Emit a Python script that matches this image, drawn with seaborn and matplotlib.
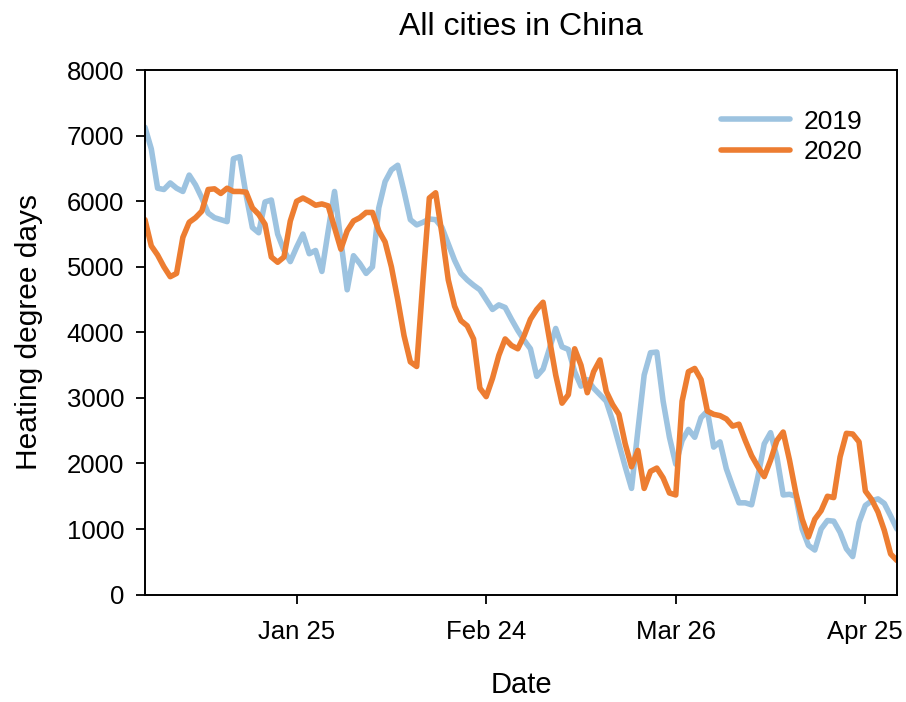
import numpy as np
import pandas as pd
import matplotlib
matplotlib.use("Agg")
import matplotlib.pyplot as plt
import seaborn as sns

# daily heating degree days, Jan 1 .. Apr 30
hdd_2019 = [
    7130, 6800, 6200, 6180, 6280, 6200, 6150, 6400, 6250, 6050,
    5820, 5750, 5720, 5690, 6650, 6680, 6100, 5600, 5520, 5990,
    6020, 5500, 5250, 5080, 5300, 5500, 5200, 5250, 4930, 5550,
    6150, 5400, 4650, 5170, 5050, 4900, 5000, 5900, 6300, 6480,
    6550, 6150, 5720, 5640, 5680, 5730, 5720, 5600, 5350, 5100,
    4900, 4800, 4720, 4650, 4500, 4350, 4420, 4380, 4200, 4030,
    3880, 3750, 3330, 3440, 3750, 4060, 3780, 3740, 3400, 3180,
    3280, 3150, 3050, 2950, 2650, 2300, 1950, 1620, 2500, 3350,
    3690, 3700, 2950, 2400, 1990, 2350, 2520, 2400, 2700, 2800,
    2250, 2330, 1920, 1650, 1400, 1400, 1370, 1800, 2300, 2470,
    2100, 1520, 1530, 1500, 1000, 750, 680, 1000, 1130, 1120,
    950, 700, 580, 1100, 1360, 1430, 1460, 1390, 1200, 1000,
]
hdd_2020 = [
    5720, 5320, 5180, 5000, 4850, 4900, 5450, 5680, 5750, 5850,
    6180, 6190, 6120, 6200, 6150, 6150, 6140, 5900, 5800, 5650,
    5150, 5070, 5150, 5700, 6000, 6050, 6000, 5940, 5960, 5930,
    5600, 5270, 5550, 5700, 5750, 5830, 5830, 5550, 5380, 5000,
    4500, 3950, 3550, 3480, 4800, 6050, 6130, 5500, 4800, 4400,
    4180, 4100, 3900, 3150, 3020, 3300, 3650, 3900, 3800, 3750,
    3950, 4200, 4350, 4460, 3900, 3350, 2920, 3050, 3750, 3500,
    3080, 3400, 3580, 3100, 2900, 2750, 2300, 1950, 2200, 1620,
    1880, 1930, 1780, 1550, 1520, 2950, 3400, 3450, 3280, 2800,
    2750, 2730, 2680, 2570, 2600, 2350, 2120, 1950, 1800, 2050,
    2350, 2480, 2050, 1550, 1150, 880, 1150, 1280, 1500, 1480,
    2100, 2460, 2450, 2330, 1580, 1450, 1260, 980, 620, 520,
]
years = ["2019", "2020"]
tick_dates = ["2019-01-25", "2019-02-24", "2019-03-26", "2019-04-25"]
tick_labels = ["Jan 25", "Feb 24", "Mar 26", "Apr 25"]
y_ticks = [0, 1000, 2000, 3000, 4000, 5000, 6000, 7000, 8000]

days = pd.date_range("2019-01-01", periods=len(hdd_2019), freq="D")
df = pd.DataFrame({
    "Date": np.concatenate([days, days]),
    "hdd": hdd_2019 + hdd_2020,
    "year": [years[0]] * len(hdd_2019) + [years[1]] * len(hdd_2020),
})

sns.set_style("ticks")
plt.rcParams["font.family"] = ["Liberation Sans", "DejaVu Sans"]
plt.rcParams["text.color"] = "black"
plt.rcParams["axes.labelcolor"] = "black"

fig = plt.figure(figsize=(9.06, 7.02), dpi=100)
ax = fig.add_axes([0.160, 0.153, 0.830, 0.747])

sns.lineplot(data=df, x="Date", y="hdd", hue="year", ax=ax,
             palette={"2019": "#9DC3E0", "2020": "#ED7D31"},
             linewidth=4)

ax.set_xlim(days[0], days[-1])
ax.set_ylim(0, 8000)
ax.set_yticks(y_ticks)
ax.set_xticks(pd.to_datetime(tick_dates))
ax.set_xticklabels(tick_labels)
ax.tick_params(axis="both", labelsize=18.5, length=6.5, width=1.3, colors="black")
ax.tick_params(axis="y", pad=8.5)
ax.tick_params(axis="x", pad=11.5)
for s in ax.spines.values():
    s.set_linewidth(1.4)
    s.set_color("black")

ax.set_xlabel("Date", fontsize=21, labelpad=20)
ax.set_ylabel("Heating degree days", fontsize=21.5, labelpad=17)
ax.set_title("All cities in China", fontsize=23, pad=25)

ax.legend(frameon=False, loc="upper right", fontsize=19,
          bbox_to_anchor=(0.985, 0.97), handlelength=2.6,
          labelspacing=0.25, handletextpad=0.5)

fig.savefig("out.png", dpi=100)
